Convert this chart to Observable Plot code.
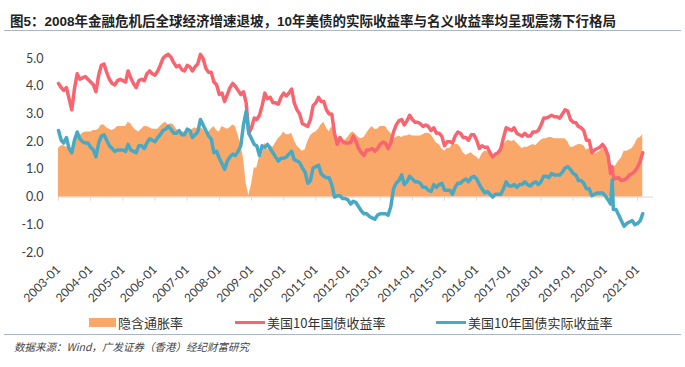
<!DOCTYPE html>
<html>
<head>
<meta charset="utf-8">
<script src="https://cdn.jsdelivr.net/npm/d3@7"></script>
<script src="https://cdn.jsdelivr.net/npm/@observablehq/plot@0.6"></script>
<style>
  html, body { margin: 0; padding: 0; background: #fff; }
  body { width: 685px; height: 367px; position: relative; overflow: hidden;
         font-family: "Noto Sans CJK SC", "Liberation Sans", sans-serif; }
  #title { position: absolute; left: 10px; top: 10px; font-size: 13.5px; font-weight: bold;
           color: #222; white-space: nowrap; font-family: "Liberation Sans", "Noto Sans CJK SC", sans-serif; }
  .sep { position: absolute; left: 4px; width: 677px; height: 1px; background: #a9b7c8; }
  #chart { position: absolute; left: 0; top: 36px; }
  .leg { position: absolute; top: 313px; height: 18px; display: flex; align-items: center;
         font-size: 13px; color: #333; white-space: nowrap; }
  .sw { width: 27px; height: 9px; margin-right: 2px; }
  .ln { width: 30px; height: 3px; margin-right: 2px; }
  #source { position: absolute; left: 14px; top: 339px; font-size: 10.5px; font-style: italic;
            color: #444; white-space: nowrap; }
</style>
</head>
<body>
<div id="title">图5：2008年金融危机后全球经济增速退坡，10年美债的实际收益率与名义收益率均呈现震荡下行格局</div>
<div class="sep" style="top:30px"></div>
<div id="chart"></div>
<div class="leg" style="left:89px"><div class="sw" style="background:#F9A86A"></div>隐含通胀率</div>
<div class="leg" style="left:235px"><div class="ln" style="background:#F8646F"></div>美国10年国债收益率</div>
<div class="leg" style="left:436px"><div class="ln" style="background:#48A9C5"></div>美国10年国债实际收益率</div>
<div class="sep" style="top:334px"></div>
<div id="source">数据来源：Wind，广发证券（香港）经纪财富研究</div>
<script>
// Monthly series, 2003-01 .. 2021-03
const nominal = [
  4.10,3.95,3.85,3.95,3.55,3.15,3.90,4.45,4.25,4.30,4.35,4.25,
  4.15,4.05,3.80,4.40,4.75,4.80,4.50,4.25,4.10,4.05,4.20,4.25,
  4.20,4.15,4.55,4.30,4.10,3.95,4.20,4.25,4.20,4.45,4.55,4.45,
  4.40,4.55,4.75,5.00,5.10,5.15,5.05,4.85,4.70,4.75,4.60,4.55,
  4.75,4.70,4.55,4.70,4.80,5.15,5.00,4.65,4.50,4.50,4.15,4.05,
  3.70,3.75,3.45,3.70,3.95,4.10,4.00,3.85,3.70,3.80,3.40,2.30,
  2.50,2.85,2.80,2.95,3.30,3.75,3.55,3.60,3.40,3.40,3.35,3.60,
  3.75,3.65,3.75,3.90,3.40,3.15,3.00,2.65,2.60,2.55,2.80,3.30,
  3.40,3.60,3.45,3.45,3.15,3.00,3.00,2.30,1.90,2.15,2.00,1.95,
  1.95,1.97,2.20,2.00,1.75,1.60,1.50,1.70,1.70,1.75,1.65,1.75,
  1.90,1.98,1.95,1.75,1.95,2.35,2.60,2.75,2.80,2.60,2.75,2.95,
  2.80,2.70,2.70,2.65,2.55,2.60,2.55,2.40,2.50,2.30,2.30,2.20,
  1.85,2.00,2.00,1.95,2.20,2.35,2.30,2.15,2.15,2.05,2.25,2.25,
  2.05,1.75,1.85,1.80,1.80,1.60,1.45,1.55,1.60,1.75,2.15,2.50,
  2.45,2.40,2.50,2.30,2.25,2.20,2.30,2.20,2.20,2.35,2.35,2.40,
  2.60,2.85,2.85,2.90,2.95,2.90,2.90,2.85,3.00,3.15,3.10,2.80,
  2.70,2.68,2.55,2.50,2.40,2.05,2.05,1.60,1.70,1.75,1.80,1.90,
  1.75,1.50,0.85,0.65,0.68,0.70,0.60,0.62,0.68,0.80,0.85,0.93,
  1.08,1.30,1.60
];
const real = [
  2.40,2.05,1.95,2.15,1.75,1.60,2.05,2.35,2.10,2.00,1.95,1.95,
  1.80,1.70,1.45,1.95,2.20,2.25,2.05,1.85,1.75,1.65,1.70,1.70,
  1.70,1.65,1.90,1.70,1.65,1.60,1.85,1.85,1.75,1.95,2.10,2.05,
  2.00,2.15,2.25,2.40,2.45,2.55,2.45,2.30,2.30,2.40,2.25,2.25,
  2.45,2.40,2.15,2.25,2.35,2.80,2.60,2.40,2.20,2.10,1.60,1.65,
  1.40,1.20,1.00,1.30,1.45,1.55,1.50,1.65,1.85,2.60,3.10,2.30,
  2.10,1.90,1.85,1.50,1.85,1.80,1.90,1.75,1.60,1.45,1.30,1.40,
  1.40,1.45,1.55,1.65,1.35,1.30,1.25,1.05,0.90,0.50,0.60,1.05,
  1.10,1.15,0.85,0.75,0.70,0.70,0.45,0.00,0.05,0.05,-0.05,-0.05,
  -0.10,-0.25,-0.15,-0.20,-0.35,-0.50,-0.60,-0.60,-0.70,-0.75,-0.80,-0.65,
  -0.60,-0.60,-0.60,-0.65,-0.35,0.30,0.50,0.60,0.80,0.45,0.55,0.75,
  0.65,0.55,0.55,0.50,0.35,0.35,0.25,0.20,0.45,0.35,0.45,0.50,
  0.25,0.25,0.25,0.10,0.35,0.50,0.50,0.60,0.65,0.55,0.70,0.75,
  0.65,0.45,0.30,0.15,0.20,0.10,0.00,0.10,0.10,0.10,0.30,0.55,
  0.40,0.40,0.45,0.35,0.45,0.45,0.55,0.45,0.40,0.50,0.55,0.45,
  0.55,0.75,0.75,0.70,0.85,0.80,0.80,0.80,0.90,1.05,1.10,1.00,
  0.85,0.80,0.60,0.60,0.50,0.30,0.30,0.05,0.10,0.15,0.15,0.15,
  0.05,-0.10,-0.25,-0.45,-0.45,-0.65,-0.85,-1.05,-0.95,-0.90,-0.85,-1.00,
  -0.95,-0.85,-0.60
];
const breakeven = [
  1.75,1.85,1.85,1.80,1.85,1.65,1.90,2.15,2.20,2.30,2.35,2.35,
  2.35,2.40,2.40,2.45,2.60,2.60,2.50,2.45,2.40,2.45,2.55,2.55,
  2.55,2.55,2.70,2.65,2.50,2.40,2.35,2.45,2.55,2.55,2.50,2.45,
  2.45,2.45,2.55,2.65,2.70,2.60,2.65,2.60,2.45,2.35,2.35,2.35,
  2.35,2.35,2.45,2.50,2.45,2.50,2.45,2.30,2.35,2.45,2.55,2.40,
  2.35,2.55,2.50,2.45,2.50,2.60,2.55,2.25,1.90,1.40,0.50,0.05,
  0.45,1.05,1.05,1.45,1.50,1.95,1.70,1.85,1.80,1.95,2.10,2.20,
  2.35,2.25,2.25,2.30,2.05,1.85,1.75,1.65,1.70,2.00,2.20,2.30,
  2.35,2.45,2.60,2.70,2.50,2.35,2.55,2.25,1.95,2.10,2.05,2.05,
  2.15,2.30,2.35,2.25,2.15,2.10,2.15,2.30,2.45,2.55,2.45,2.45,
  2.55,2.55,2.55,2.40,2.30,2.10,2.15,2.20,2.15,2.20,2.20,2.25,
  2.20,2.20,2.20,2.20,2.25,2.30,2.30,2.25,2.10,1.95,1.90,1.75,
  1.65,1.75,1.75,1.90,1.90,1.90,1.80,1.60,1.50,1.55,1.60,1.50,
  1.45,1.35,1.55,1.65,1.65,1.55,1.50,1.50,1.55,1.70,1.90,2.00,
  2.05,2.00,2.05,1.95,1.85,1.75,1.80,1.80,1.85,1.90,1.85,1.95,
  2.05,2.10,2.10,2.15,2.15,2.10,2.10,2.10,2.10,2.10,2.00,1.80,
  1.80,1.85,1.90,1.90,1.85,1.70,1.75,1.60,1.55,1.60,1.65,1.75,
  1.70,1.60,1.05,1.05,1.15,1.30,1.40,1.65,1.65,1.70,1.75,1.90,
  2.10,2.15,2.25
];
// extra daily observation (March 2020 spike)
const extraDates = ["2020-03-19"];
const extraNominal = [1.10];
const extraReal = [0.62];
const extraBreakeven = [0.55];

const tickLabels = ["2003-01","2004-01","2005-01","2006-01","2007-01","2008-01","2009-01","2010-01","2011-01","2012-01",
  "2013-01","2014-01","2015-01","2016-01","2017-01","2018-01","2019-01","2020-01","2021-01"];
const yTicks = [-2, -1, 0, 1, 2, 3, 4, 5];

const months = d3.utcMonth.range(new Date(Date.UTC(2003, 0, 1)), new Date(Date.UTC(2021, 3, 1)));
let rows = months.map((d, i) => ({date: d, nominal: nominal[i], real: real[i], bei: breakeven[i]}));
extraDates.forEach((s, i) => rows.push({date: new Date(s + "T00:00:00Z"), nominal: extraNominal[i], real: extraReal[i], bei: extraBreakeven[i]}));
rows.sort((a, b) => a.date - b.date);
const tickDates = tickLabels.map(s => new Date(s + "-01T00:00:00Z"));

const chart = Plot.plot({
  width: 685,
  height: 274,
  marginLeft: 58,
  marginRight: 32,
  marginTop: 22,
  marginBottom: 58,
  style: {fontFamily: "Lato, 'Open Sans', sans-serif", fontSize: "12px", color: "#404040", background: "#fff"},
  x: {type: "utc", domain: [new Date(Date.UTC(2003, 0, 1)), new Date(Date.UTC(2021, 6, 1))]},
  y: {domain: [-2, 5]},
  marks: [
    Plot.ruleY([0], {stroke: "#d9d9d9"}),
    Plot.areaY(rows, {x: "date", y: "bei", fill: "#F9A86A"}),
    Plot.ruleX(tickDates, {x: d => d, y1: 0, y2: -0.15, stroke: "#d9d9d9"}),
    Plot.lineY(rows, {x: "date", y: "nominal", stroke: "#F8646F", strokeWidth: 3.5}),
    Plot.lineY(rows, {x: "date", y: "real", stroke: "#48A9C5", strokeWidth: 3.5}),
    Plot.axisY(yTicks, {anchor: "left", tickSize: 0, tickPadding: 15, tickFormat: d => d.toFixed(1), fontSize: 12.5}),
    Plot.axisX(tickDates, {anchor: "bottom", tickSize: 0, tickPadding: 15, tickRotate: -45, tickFormat: d3.utcFormat("%Y-%m"), fontSize: 12})
  ]
});
document.getElementById("chart").appendChild(chart);
</script>
</body>
</html>
